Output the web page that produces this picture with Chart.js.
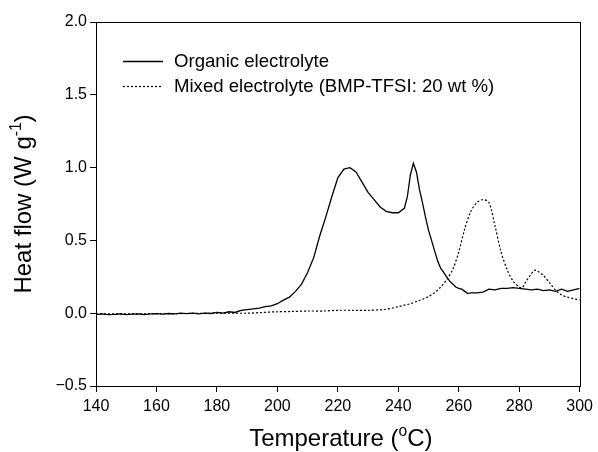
<!DOCTYPE html>
<html>
<head>
<meta charset="utf-8">
<script src="https://cdn.jsdelivr.net/npm/chart.js@4/dist/chart.umd.min.js"></script>
<style>
  html, body { margin: 0; padding: 0; background: #fff; }
  #wrap { width: 598px; height: 452px; }
</style>
</head>
<body>
<div id="wrap"><canvas id="dscChart"></canvas></div>
<script>
// DSC traces: temperature (°C) and heat flow (W/g)
const organicTemp = [140,142,144,146,148,150,152,154,156,158,160,162,164,166,168,170,172,174,176,178,180,182,184,186,188,190,192,194,196,198,200,202,204,206,208,210,212,214,216,218,220,222,224,226,228,230,232,234,236,238,240,242,243,244,245,246,247,248,249,250,251,252,253,254,255,256,257,258,259,260,261,262,263,264,266,268,270,272,274,276,278,280,282,284,286,288,290,292,294,296,298,300];
const organicFlow = [-0.01,-0.005,-0.01,-0.008,-0.005,-0.01,-0.006,-0.004,-0.01,-0.005,-0.003,-0.006,-0.002,-0.004,0.0,-0.003,0.0,-0.004,0.0,-0.002,0.005,0.0,0.01,0.005,0.02,0.025,0.03,0.035,0.045,0.05,0.065,0.09,0.11,0.15,0.2,0.28,0.38,0.53,0.66,0.8,0.93,0.99,1.0,0.97,0.9,0.83,0.78,0.73,0.7,0.69,0.69,0.72,0.8,0.95,1.03,0.97,0.85,0.76,0.66,0.57,0.5,0.43,0.36,0.31,0.28,0.25,0.22,0.2,0.18,0.17,0.165,0.15,0.135,0.14,0.14,0.145,0.165,0.16,0.17,0.17,0.175,0.17,0.165,0.16,0.165,0.155,0.16,0.15,0.165,0.15,0.16,0.17];

const mixedTemp = [140,150,160,170,180,190,195,200,205,210,215,220,225,230,235,238,240,242,244,246,248,250,252,254,256,258,260,262,264,266,268,270,272,274,276,278,280,281,282,284,285,286,288,290,292,294,296,298,300];
const mixedFlow = [-0.005,-0.005,-0.003,-0.002,0.0,0.0,0.005,0.01,0.012,0.015,0.015,0.02,0.02,0.02,0.025,0.035,0.045,0.055,0.065,0.08,0.095,0.115,0.14,0.18,0.23,0.3,0.42,0.58,0.7,0.76,0.78,0.76,0.6,0.42,0.3,0.22,0.18,0.175,0.21,0.27,0.295,0.29,0.26,0.21,0.16,0.125,0.11,0.1,0.09];

const seriesNames = ["Organic electrolyte", "Mixed electrolyte (BMP-TFSI: 20 wt %)"];
const xTicks = { min: 140, max: 300, step: 20 };
const yTicks = { min: -0.5, max: 2.0, step: 0.5 };

const toPoints = (xs, ys) => xs.map((x, i) => ({ x: x, y: ys[i] }));

const FONT = "Arial, 'Liberation Sans', sans-serif";

// draws text pieces, some raised as superscripts
function drawRich(ctx, parts, size) {
  let x = 0;
  parts.forEach(p => {
    const s = p.sup ? size * 0.65 : size;
    ctx.font = s + "px " + FONT;
    ctx.fillText(p.t, x, p.sup ? -size * 0.42 : 0);
    x += ctx.measureText(p.t).width;
  });
}
function richWidth(ctx, parts, size) {
  let w = 0;
  parts.forEach(p => {
    ctx.font = (p.sup ? size * 0.65 : size) + "px " + FONT;
    w += ctx.measureText(p.t).width;
  });
  return w;
}

const decorations = {
  id: "decorations",
  afterDraw(chart) {
    const ctx = chart.ctx;
    const a = chart.chartArea;
    ctx.save();
    // frame
    ctx.strokeStyle = "#000";
    ctx.lineWidth = 1;
    ctx.strokeRect(Math.round(a.left) + 0.5, Math.round(a.top) + 0.5, Math.round(a.right - a.left), Math.round(a.bottom - a.top));

    ctx.fillStyle = "#000";
    ctx.textBaseline = "alphabetic";
    ctx.textAlign = "left";

    // x axis title
    const xt = [{ t: "Temperature (" }, { t: "o", sup: true }, { t: "C)" }];
    const ts = 24;
    const xw = richWidth(ctx, xt, ts);
    ctx.save();
    ctx.translate((a.left + a.right) / 2 - xw / 2 + 3, 446);
    drawRich(ctx, xt, ts);
    ctx.restore();

    // y axis title
    const yt = [{ t: "Heat flow (W g" }, { t: "-1", sup: true }, { t: ")" }];
    const yw = richWidth(ctx, yt, ts);
    ctx.save();
    ctx.translate(31, (a.top + a.bottom) / 2 + yw / 2);
    ctx.rotate(-Math.PI / 2);
    drawRich(ctx, yt, ts);
    ctx.restore();

    // legend
    ctx.font = "18.6px " + FONT;
    ctx.textBaseline = "middle";
    const rows = [61, 86];
    chart.data.datasets.forEach((ds, i) => {
      const y = rows[i] + 0.5;
      ctx.beginPath();
      ctx.setLineDash(ds.borderDash || []);
      ctx.lineWidth = ds.borderWidth;
      ctx.strokeStyle = ds.borderColor;
      ctx.moveTo(123, y);
      ctx.lineTo(163, y);
      ctx.stroke();
      ctx.setLineDash([]);
      ctx.fillText(ds.label, 174, rows[i] + 1);
    });
    ctx.restore();
  }
};

new Chart(document.getElementById("dscChart"), {
  type: "line",
  data: {
    datasets: [
      {
        label: seriesNames[0],
        data: toPoints(organicTemp, organicFlow),
        borderColor: "#000",
        borderWidth: 1.3,
        pointRadius: 0,
        tension: 0
      },
      {
        label: seriesNames[1],
        data: toPoints(mixedTemp, mixedFlow),
        borderColor: "#000",
        borderWidth: 1.2,
        borderDash: [2, 2],
        pointRadius: 0,
        tension: 0.3
      }
    ]
  },
  options: {
    responsive: true,
    maintainAspectRatio: false,
    animation: false,
    layout: { padding: { top: 22, right: 16, bottom: 0, left: 0 } },
    plugins: {
      legend: { display: false },
      tooltip: { enabled: false }
    },
    scales: {
      x: {
        type: "linear",
        min: xTicks.min,
        max: xTicks.max,
        afterFit(scale) { scale.height = 66; },
        grid: { drawOnChartArea: false, drawTicks: true, tickLength: 6, tickColor: "#000" },
        border: { display: true, color: "#000", width: 1 },
        ticks: {
          stepSize: xTicks.step,
          padding: 5,
          color: "#000",
          font: { size: 16, family: FONT },
          maxRotation: 0
        }
      },
      y: {
        min: yTicks.min,
        max: yTicks.max,
        afterFit(scale) { scale.width = 96; },
        grid: { drawOnChartArea: false, drawTicks: true, tickLength: 6, tickColor: "#000" },
        border: { display: true, color: "#000", width: 1 },
        ticks: {
          stepSize: yTicks.step,
          padding: 3,
          color: "#000",
          font: { size: 16, family: FONT },
          callback: v => v.toFixed(1).replace("-", "\u2212")
        }
      }
    }
  },
  plugins: [decorations]
});
</script>
</body>
</html>
